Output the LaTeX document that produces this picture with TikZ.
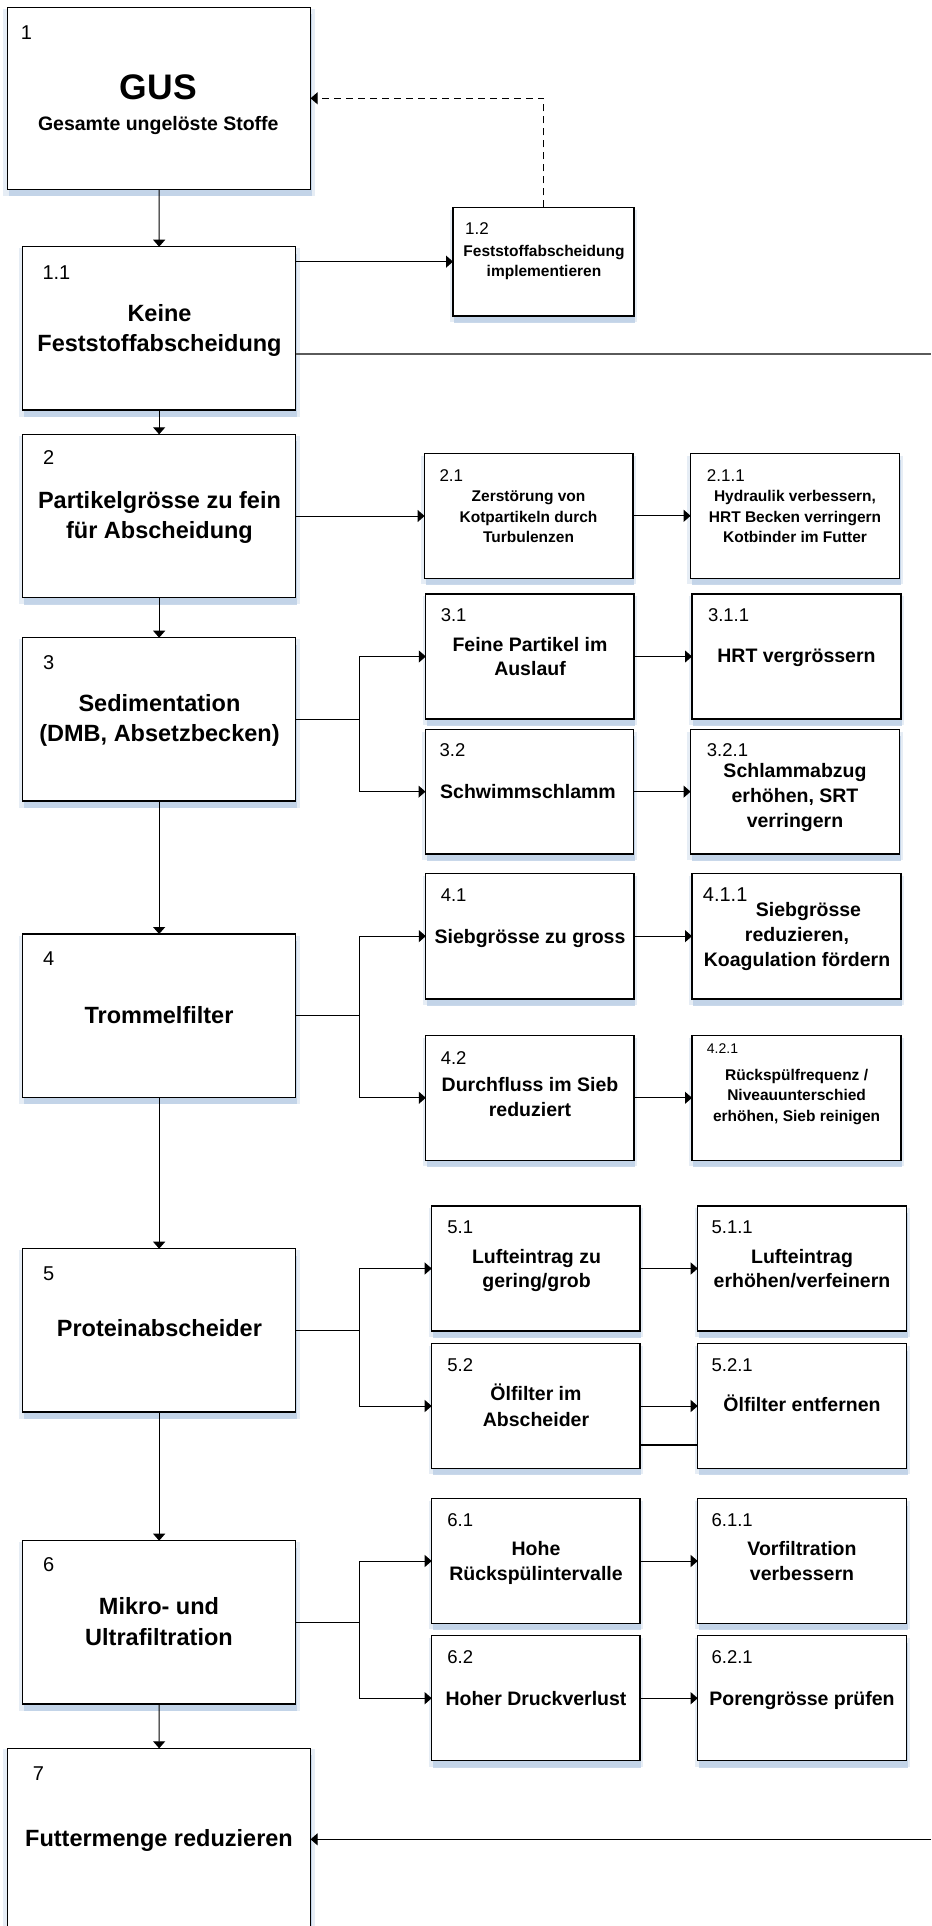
\documentclass[tikz,border=0pt]{standalone}
\usepackage{fontspec}
\setmainfont{Liberation Sans}
\usetikzlibrary{arrows.meta,shadows}
\definecolor{shblue}{HTML}{B8CCE4}
\definecolor{lgray}{HTML}{5A5A5A}
\newcommand\ml[1]{\begin{tabular}[t]{@{}c@{}}#1\end{tabular}}
\newcommand\tlab[6]{\node[anchor=base, inner sep=0pt, font=\fontsize{#4}{#5}\selectfont\bfseries] (#1) at (#2,#3) {\ml{#6}};}
\newcommand\nlab[5]{\node[anchor=base west, inner sep=0pt, font=\fontsize{#4}{#4}\selectfont] (#1) at (#2,#3) {#5};}
\newcommand\bx[5]{\node[box, minimum width=#4pt, minimum height=#5pt] (#1) at (#2,#3) {};}
\tikzset{
  box/.style={draw=black, line width=1.3pt, fill=white, inner sep=0pt, outer sep=0pt, anchor=north west,
    general shadow={shadow scale=1.03, shadow yshift=-4pt, fill=shblue, opacity=.35},
    drop shadow={shadow xshift=1pt, shadow yshift=-7pt, fill=shblue, opacity=.75}},
  arr/.style={-{Triangle[length=7pt,width=12pt]}, line width=1pt, draw=black},
  conn/.style={line width=1pt, draw=black},
  gline/.style={line width=1.6pt, draw=lgray},
  dline/.style={dash pattern=on 7pt off 5pt},
  heavy/.style={line width=2.6pt, draw=black}
}
\begin{document}
\begin{tikzpicture}[x=1pt,y=-1pt]
\fill[white] (0,0) rectangle (931,1926);
\useasboundingbox (0,0) rectangle (931,1926);
\clip (0,0) rectangle (931,1926);

% boxes
\bx{b1}{7.7}{7.3}{302.9}{182}
\bx{b11}{22.6}{246.7}{273.1}{163.3}
\bx{b12}{453}{207.3}{181}{108.7}
\bx{b2}{22.6}{434.3}{273.1}{163.4}
\bx{b21}{424.6}{453.3}{208.4}{125}
\bx{b211}{690.6}{453.3}{209}{125}
\bx{b3}{22.6}{637.7}{273.1}{163.3}
\bx{b31}{425.8}{594}{208.2}{125}
\bx{b311}{692}{594}{209}{125}
\bx{b32}{425.5}{729.3}{208}{124.7}
\bx{b321}{690.6}{729.3}{209}{124.7}
\bx{b4}{22.6}{934}{273.1}{163.3}
\bx{b41}{425.8}{873.3}{208.2}{125.7}
\bx{b411}{692}{873.3}{209}{125.7}
\bx{b42}{425.8}{1035.3}{208.2}{125}
\bx{b421}{692}{1035.3}{209}{125}
\bx{b5}{22.6}{1248.7}{273.1}{163.3}
\bx{b51}{431.7}{1206}{208.3}{125}
\bx{b511}{697.7}{1206}{209}{125}
\bx{b52}{431.7}{1343.7}{208.3}{124.6}
\bx{b521}{697.7}{1343.7}{209}{124.6}
\bx{b6}{22.6}{1540.7}{273.1}{163.3}
\bx{b61}{431.7}{1498.7}{208.3}{124.6}
\bx{b611}{697.7}{1498.7}{209}{124.6}
\bx{b62}{431.7}{1635.7}{208.3}{125}
\bx{b621}{697.7}{1635.7}{209}{125}
\bx{b7}{7.7}{1748.3}{302.9}{200}

% numbers
\nlab{n1}{20.7}{39.3}{20}{1}
\nlab{n11}{42.3}{279.3}{20}{1.1}
\nlab{n12}{465}{235}{17}{1.2}
\nlab{n2}{42.8}{464.3}{20}{2}
\nlab{n21}{439.3}{481.7}{17}{2.1}
\nlab{n211}{706.7}{481.7}{17}{2.1.1}
\nlab{n3}{42.8}{669.3}{20}{3}
\nlab{n31}{440.6}{621.7}{18.5}{3.1}
\nlab{n311}{707.8}{621.7}{18.5}{3.1.1}
\nlab{n32}{439.4}{756.7}{18.5}{3.2}
\nlab{n321}{706.7}{756.7}{18.5}{3.2.1}
\nlab{n4}{42.8}{965}{20}{4}
\nlab{n41}{440.6}{901.7}{18.5}{4.1}
\nlab{n411}{702.7}{901}{20}{4.1.1}
\nlab{n42}{440.6}{1064}{18.5}{4.2}
\nlab{n421}{706.7}{1053}{14}{4.2.1}
\nlab{n5}{42.8}{1280}{20}{5}
\nlab{n51}{447.2}{1233.3}{18.5}{5.1}
\nlab{n511}{711.4}{1233.3}{18.5}{5.1.1}
\nlab{n52}{447.2}{1371.7}{18.5}{5.2}
\nlab{n521}{711.4}{1371.7}{18.5}{5.2.1}
\nlab{n6}{42.8}{1571.7}{20}{6}
\nlab{n61}{447.2}{1526.7}{18.5}{6.1}
\nlab{n611}{711.4}{1526.7}{18.5}{6.1.1}
\nlab{n62}{447.2}{1663.3}{18.5}{6.2}
\nlab{n621}{711.4}{1663.3}{18.5}{6.2.1}
\nlab{n7}{32.7}{1780}{20}{7}

% texts
\tlab{t1a}{158.4}{100}{35.5}{40}{GUS}
\tlab{t1b}{158.3}{130.7}{19.5}{24}{Gesamte ungelöste Stoffe}
\tlab{t11}{159.5}{321}{23.5}{30.5}{Keine\\Feststoffabscheidung}
\tlab{t12}{544}{256.7}{15.5}{20}{Feststoffabscheidung\\implementieren}
\tlab{t2}{159.5}{508.3}{23.5}{30}{Partikelgrösse zu fein\\für Abscheidung}
\tlab{t21}{528.5}{501.7}{15.5}{20.3}{Zerstörung von\\Kotpartikeln durch\\Turbulenzen}
\tlab{t211}{795}{501.7}{15.5}{20.3}{Hydraulik verbessern,\\HRT Becken verringern\\Kotbinder im Futter}
\tlab{t3}{159.5}{711}{23.5}{30}{Sedimentation\\(DMB, Absetzbecken)}
\tlab{t31}{530}{651}{19.5}{24}{Feine Partikel im\\Auslauf}
\tlab{t311}{796.5}{662.7}{19.5}{24}{HRT vergrössern}
\tlab{t32}{528}{798.3}{19.5}{24}{Schwimmschlamm}
\tlab{t321}{795}{777.3}{19.5}{25.3}{Schlammabzug\\erhöhen, SRT\\verringern}
\tlab{t4}{159}{1023.3}{23.5}{30}{Trommelfilter}
\tlab{t41}{530}{943.3}{19.5}{24}{Siebgrösse zu gross}
\tlab{t411}{797}{916.7}{19.5}{25}{\hspace*{23pt}Siebgrösse\\reduzieren,\\Koagulation fördern}
\tlab{t42}{530}{1091.7}{19.5}{25}{Durchfluss im Sieb\\reduziert}
\tlab{t421}{796.6}{1080}{15.5}{20.8}{Rückspülfrequenz /\\Niveauunterschied\\erhöhen, Sieb reinigen}
\tlab{t5}{159.4}{1336.7}{23.5}{30}{Proteinabscheider}
\tlab{t51}{536.5}{1263.3}{19.5}{24}{Lufteintrag zu\\gering/grob}
\tlab{t511}{802}{1263.3}{19.5}{24}{Lufteintrag\\erhöhen/verfeinern}
\tlab{t52}{536}{1400}{19.5}{26}{Ölfilter im\\Abscheider}
\tlab{t521}{802}{1411.7}{19.5}{24}{Ölfilter entfernen}
\tlab{t6}{159}{1614}{23.5}{31}{Mikro- und\\Ultrafiltration}
\tlab{t61}{536}{1555}{19.5}{25}{Hohe\\Rückspülintervalle}
\tlab{t611}{802}{1555}{19.5}{25}{Vorfiltration\\verbessern}
\tlab{t62}{536}{1705}{19.5}{24}{Hoher Druckverlust}
\tlab{t621}{802}{1705}{19.5}{24}{Porengrösse prüfen}
\tlab{t7}{159}{1846}{23.5}{30}{Futtermenge reduzieren}

% main chain
\draw[arr] (b1.south) -- (b11.north);
\draw[arr] (b11.south) -- (b2.north);
\draw[arr] (b2.south) -- (b3.north);
\draw[arr] (b3.south) -- (b4.north);
\draw[arr] (b4.south) -- (b5.north);
\draw[arr] (b5.south) -- (b6.north);
\draw[arr] (b6.south) -- (b7.north);

% 1.x
\draw[arr] (b11.east |- b12.west) -- (b12.west);
\coordinate (d1) at (543.5,98.3);
\draw[arr,dline] (b12.north) -- (d1) -- (b1.east |- d1);
\coordinate (r1) at (931,354);
\draw[gline] (b11.east |- r1) -- (r1);
\coordinate (r7) at (931,1839.3);
\draw[arr] (r7) -- (b7.east |- r7);

% 2.x
\draw[arr] (b2.east) -- (b2.east -| b21.west);
\draw[arr] (b21.east) -- (b211.west);

% 3.x
\coordinate (j3) at (359.3,719.3);
\draw[conn] (b3.east) -- (b3.east -| j3);
\draw[conn] (j3 |- b31.west) -- (j3 |- b32.west);
\draw[arr] (j3 |- b31.west) -- (b31.west);
\draw[arr] (j3 |- b32.west) -- (b32.west);
\draw[arr] (b31.east) -- (b311.west);
\draw[arr] (b32.east) -- (b321.west);

% 4.x
\coordinate (j4) at (359.3,1015.7);
\draw[conn] (b4.east) -- (b4.east -| j4);
\draw[conn] (j4 |- b41.west) -- (j4 |- b42.west);
\draw[arr] (j4 |- b41.west) -- (b41.west);
\draw[arr] (j4 |- b42.west) -- (b42.west);
\draw[arr] (b41.east) -- (b411.west);
\draw[arr] (b42.east) -- (b421.west);

% 5.x
\coordinate (j5) at (359.3,1330.3);
\draw[conn] (b5.east) -- (b5.east -| j5);
\draw[conn] (j5 |- b51.west) -- (j5 |- b52.west);
\draw[arr] (j5 |- b51.west) -- (b51.west);
\draw[arr] (j5 |- b52.west) -- (b52.west);
\draw[arr] (b51.east) -- (b511.west);
\draw[arr] (b52.east) -- (b521.west);
\coordinate (k5) at (640,1445);
\draw[heavy] (k5) -- (b521.west |- k5);

% 6.x
\coordinate (j6) at (359.3,1622.7);
\draw[conn] (b6.east) -- (b6.east -| j6);
\draw[conn] (j6 |- b61.west) -- (j6 |- b62.west);
\draw[arr] (j6 |- b61.west) -- (b61.west);
\draw[arr] (j6 |- b62.west) -- (b62.west);
\draw[arr] (b61.east) -- (b611.west);
\draw[arr] (b62.east) -- (b621.west);
\end{tikzpicture}
\end{document}
